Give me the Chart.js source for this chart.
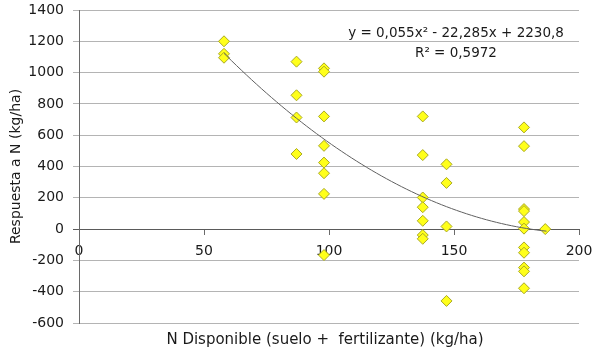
<!DOCTYPE html>
<html>
<head>
<meta charset="utf-8">
<script src="https://cdn.jsdelivr.net/npm/chart.js@4.4.1/dist/chart.umd.min.js"></script>
<style>
  html, body { margin: 0; padding: 0; background: #ffffff; }
  #wrap { width: 596px; height: 358px; position: relative; }
</style>
</head>
<body>
<div id="wrap"><canvas id="c" width="596" height="358"></canvas></div>
<script>
// ---- data ----
const nDisponible = [58, 58, 58,
  87, 87, 87, 87,
  98, 98, 98, 98, 98, 98, 98, 98,
  137.5, 137.5, 137.5, 137.5, 137.5, 137.5, 137.5,
  147, 147, 147, 147,
  178, 178, 178, 178, 178, 178, 178, 178, 178, 178, 178,
  186.5];
const respuesta = [1200, 1120, 1095,
  1070, 855, 713, 480,
  1027, 1006, 720, 532, 425, 357, 225, -166,
  720, 473, 202, 140, 53, -38, -62,
  414, 295, 17, -459,
  650, 530, 128, 115, 45, 3, -117, -151, -246, -270, -378,
  0];
// trendline shown on the chart: y = 0,055x² - 22,285x + 2230,8
const trendCoef = [0.055, -22.285, 2230.8];
const trendRange = [58, 187];
const xTicks = [0, 50, 100, 150, 200];
const yTicks = [-600, -400, -200, 0, 200, 400, 600, 800, 1000, 1200, 1400];
const eqText = 'y = 0,055x² - 22,285x + 2230,8';
const r2Text = 'R² = 0,5972';
const xTitle = 'N Disponible (suelo +  fertilizante) (kg/ha)';
const yTitle = 'Respuesta a N (kg/ha)';

const FONT = '"DejaVu Sans", "Open Sans", sans-serif';

const scatterPts = nDisponible.map((x, i) => ({ x: x, y: respuesta[i] }));
const trendPts = [];
for (let x = trendRange[0]; x <= trendRange[1]; x += 1) {
  trendPts.push({ x: x, y: trendCoef[0] * x * x + trendCoef[1] * x + trendCoef[2] });
}

const annot = {
  id: 'annot',
  afterDatasetsDraw(chart) {
    const ctx = chart.ctx;
    const xs = chart.scales.x, ys = chart.scales.y;
    ctx.save();
    ctx.fillStyle = '#1a1a1a';
    ctx.textAlign = 'center';
    ctx.textBaseline = 'middle';
    ctx.font = '13.5px ' + FONT;
    ctx.fillText(eqText, xs.getPixelForValue(150.8), ys.getPixelForValue(1250));
    ctx.fillText(r2Text, xs.getPixelForValue(150.8), ys.getPixelForValue(1120));
    // x-axis title below the plot
    const ca = chart.chartArea;
    ctx.font = '15px ' + FONT;
    ctx.fillText(xTitle, (ca.left + ca.right) / 2 - 4, ca.bottom + 17);
    ctx.restore();
  }
};

new Chart(document.getElementById('c'), {
  type: 'scatter',
  data: {
    datasets: [
      {
        type: 'line',
        data: trendPts,
        borderColor: '#606060',
        borderWidth: 1,
        pointRadius: 0,
        fill: false,
        tension: 0,
        order: 0
      },
      {
        data: scatterPts,
        pointStyle: 'rectRot',
        pointRadius: 5.5,
        pointBackgroundColor: '#ffff1a',
        pointBorderColor: '#a9a924',
        pointBorderWidth: 1,
        order: 1
      }
    ]
  },
  options: {
    responsive: false,
    animation: false,
    events: [],
    layout: { padding: { left: 0, right: 17, top: 10, bottom: 35 } },
    plugins: { legend: { display: false }, tooltip: { enabled: false } },
    scales: {
      x: {
        type: 'linear',
        position: { y: 0 },
        min: 0, max: 200,
        afterBuildTicks(s) { s.ticks = xTicks.map(v => ({ value: v })); },
        afterFit(s) { s.paddingLeft = 0; s.paddingRight = 0; },
        ticks: { color: '#1a1a1a', font: { family: FONT, size: 14 }, padding: 9, maxRotation: 0,
                 callback: (v) => String(v) },
        grid: { drawOnChartArea: false, drawTicks: true, tickLength: 5, color: '#6a6a6a' },
        border: { display: true, color: '#5a5a5a', width: 1 }
      },
      y: {
        type: 'linear',
        min: -600, max: 1400,
        afterBuildTicks(s) { s.ticks = yTicks.map(v => ({ value: v })); },
        afterFit(s) { s.width = 79; s.paddingTop = 0; s.paddingBottom = 0; },
        ticks: { color: '#1a1a1a', font: { family: FONT, size: 14 }, padding: 9,
                 callback: (v) => String(v) },
        grid: {
          color: (c) => c.tick && c.tick.value === 0 ? '#5a5a5a' : '#b4b4b4',
          tickLength: 6,
          lineWidth: 1
        },
        border: { display: true, color: '#6a6a6a', width: 1 },
        title: {
          display: true, text: yTitle, color: '#1a1a1a',
          font: { family: FONT, size: 14 }, padding: { top: 8, bottom: 0 }
        }
      }
    }
  },
  plugins: [annot]
});
</script>
</body>
</html>
